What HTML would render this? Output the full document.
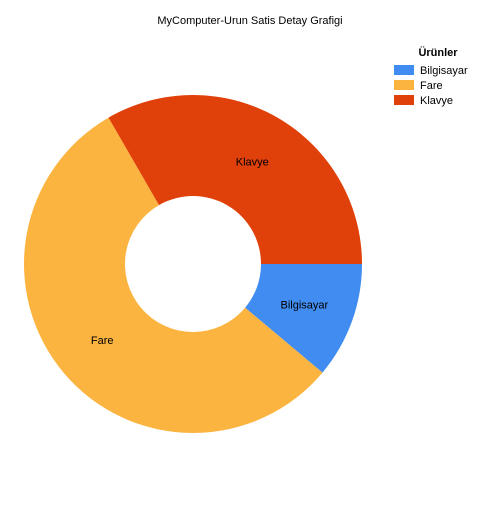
<!DOCTYPE html>
<html><head><meta charset="utf-8"><style>
body{margin:0;background:#fff;width:500px;height:500px;overflow:hidden}
text{font-family:"Liberation Sans",sans-serif}
</style></head><body>
<svg id="chart" width="500" height="500">
<text x="250" y="24" font-size="11" text-anchor="middle" fill="#000">MyComputer-Urun Satis Detay Grafigi</text>
<g id="slices"></g>
<g id="legend">
<text x="438" y="56" font-size="11" font-weight="bold" text-anchor="middle">Ürünler</text>
</g>
</svg>
<script>
const categories=["Bilgisayar","Fare","Klavye"];
const values=[1,5,3];
const colors=["#418CF0","#FCB441","#E0400A"];
const cx=193,cy=264,R=169,r=68;
const svg="http://www.w3.org/2000/svg";
const g=document.getElementById('slices');
const total=values.reduce((a,b)=>a+b,0);
let a0=0;
function pt(rad,a){return [cx+rad*Math.cos(a),cy+rad*Math.sin(a)];}
values.forEach((v,i)=>{
  const a1=a0+v/total*2*Math.PI;
  const large=(a1-a0)>Math.PI?1:0;
  const [x0,y0]=pt(R,a0),[x1,y1]=pt(R,a1),[x2,y2]=pt(r,a1),[x3,y3]=pt(r,a0);
  const p=document.createElementNS(svg,'path');
  p.setAttribute('d',`M${x0},${y0}A${R},${R} 0 ${large} 1 ${x1},${y1}L${x2},${y2}A${r},${r} 0 ${large} 0 ${x3},${y3}Z`);
  p.setAttribute('fill',colors[i]);
  
  
  g.appendChild(p);
  const am=(a0+a1)/2;const [lx,ly]=pt((R+r)/2,am);
  const t=document.createElementNS(svg,'text');
  t.setAttribute('x',lx);t.setAttribute('y',ly+4);t.setAttribute('font-size','11');
  t.setAttribute('text-anchor','middle');t.textContent=categories[i];
  
  
  g.appendChild(t);
  a0=a1;
});
const lg=document.getElementById('legend');
categories.forEach((c,i)=>{
  const y=65+i*15;
  const rc=document.createElementNS(svg,'rect');
  rc.setAttribute('x',394);rc.setAttribute('y',y);rc.setAttribute('width',20);rc.setAttribute('height',10);
  rc.setAttribute('fill',colors[i]);
  
  
  lg.appendChild(rc);
  const t=document.createElementNS(svg,'text');
  t.setAttribute('x',420);t.setAttribute('y',y+9);t.setAttribute('font-size','11');
  t.textContent=c;
  
  
  lg.appendChild(t);
});
</script>
</body></html>
